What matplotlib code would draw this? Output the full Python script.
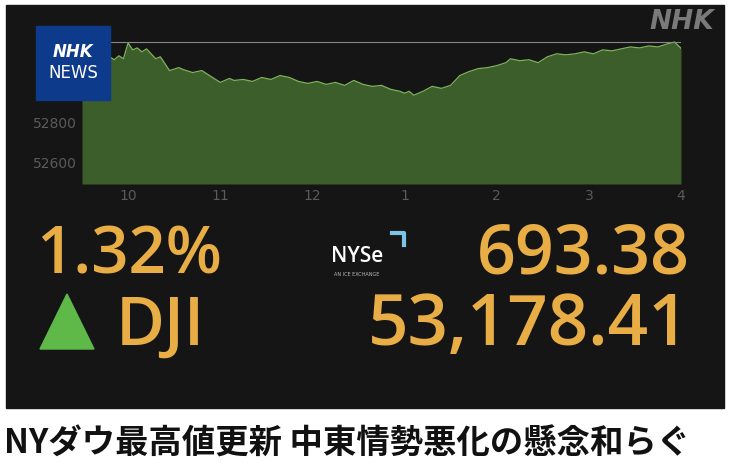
import matplotlib
matplotlib.use("Agg")
import matplotlib.pyplot as plt
from matplotlib.patches import Rectangle, Polygon

# intraday DJI (hour of day, value)
times = [9.5, 9.6, 9.7, 9.8, 9.85, 9.9, 9.95, 10.0, 10.05, 10.1, 10.15, 10.2, 10.3, 10.35,
         10.45, 10.55, 10.6, 10.7, 10.8, 10.9, 11.0, 11.1, 11.15, 11.25, 11.35, 11.45, 11.55,
         11.65, 11.75, 11.85, 11.95, 12.05, 12.15, 12.25, 12.35, 12.45, 12.55, 12.65, 12.75,
         12.85, 12.95, 13.0, 13.05, 13.1, 13.2, 13.3, 13.4, 13.5, 13.6, 13.7, 13.8, 13.9, 14.0,
         14.1, 14.15, 14.25, 14.35, 14.45, 14.55, 14.65, 14.75, 14.85, 14.95, 15.05, 15.15,
         15.25, 15.35, 15.45, 15.55, 15.65, 15.75, 15.85, 15.93, 16.0]
values = [53035, 53060, 53095, 53135, 53120, 53140, 53125, 53205, 53170, 53180, 53160, 53175,
          53125, 53135, 53065, 53080, 53070, 53055, 53065, 53035, 53005, 53025, 53015, 53020,
          53010, 53030, 53020, 53040, 53030, 53010, 53000, 53010, 52995, 53005, 52990, 53015,
          52995, 52985, 52990, 52970, 52960, 52950, 52960, 52940, 52960, 52985, 52975, 52990,
          53040, 53060, 53075, 53080, 53090, 53105, 53125, 53115, 53120, 53105, 53135, 53150,
          53145, 53150, 53160, 53150, 53170, 53165, 53175, 53185, 53180, 53190, 53185, 53200,
          53210, 53178]
xticks = [10, 11, 12, 13, 14, 15, 16]
xticklabels = ["10", "11", "12", "1", "2", "3", "4"]
yticks = [52600, 52800]
pct_text = "1.32%"
chg_text = "693.38"
idx_name = "DJI"
close_text = "53,178.41"
title = "NYダウ最高値更新 中東情勢悪化の懸念和らぐ"

W, H = 730, 476
fig = plt.figure(figsize=(W/100, H/100), dpi=100, facecolor="white")
bg = fig.add_axes([0, 0, 1, 1]); bg.set_xlim(0, W); bg.set_ylim(H, 0); bg.axis("off")
bg.add_patch(Rectangle((6, 5), 718, 403, color="#151515"))

ax = fig.add_axes([82/W, 1-184/H, 599/W, 143/H])
ax.set_facecolor("#151515")
ax.fill_between(times, values, 52490, color="#3c5e2a", lw=0)
ax.plot(times, values, color="#7fb35a", lw=0.9)
ax.axhline(53208, color="#888888", lw=0.8)
ax.set_xlim(9.5, 16); ax.set_ylim(52490, 53215)
ax.set_xticks(xticks); ax.set_xticklabels(xticklabels)
ax.set_yticks(yticks)
ax.tick_params(colors="#5a5a5a", length=0, labelsize=10)
for s in ax.spines.values(): s.set_visible(False)

# overlay layer
fg = fig.add_axes([0, 0, 1, 1]); fg.set_xlim(0, W); fg.set_ylim(H, 0); fg.axis("off")
fg.patch.set_alpha(0)
fg.add_patch(Rectangle((36, 26), 74, 74, color="#0d3a8a", zorder=5))
fg.text(73, 52, "NHK", color="white", fontsize=12, fontweight="bold", style="italic", ha="center", va="center", zorder=6)
fg.text(73, 73, "NEWS", color="white", fontsize=12, ha="center", va="center", zorder=6)
fg.text(714, 22, "NHK", color="#7a7a7a", fontsize=19, fontweight="bold", style="italic", ha="right", va="center")

gold = "#e8ad45"
fn = "Open Sans"
fg.text(36, 273, pct_text, color=gold, fontsize=47, family=fn, fontweight="semibold", ha="left", va="baseline")
fg.text(690, 273, chg_text, color=gold, fontsize=49, family=fn, fontweight="semibold", ha="right", va="baseline")
fg.text(116, 345, idx_name, color=gold, fontsize=48, family=fn, fontweight="semibold", ha="left", va="baseline")
fg.text(690, 345, close_text, color=gold, fontsize=51, family=fn, fontweight="semibold", ha="right", va="baseline")
fg.add_patch(Polygon([[40, 349], [94, 349], [67, 294]], color="#5fb948"))
fg.text(357, 262, "NYSe", color="white", fontsize=15, family=fn, fontweight="semibold", ha="center", va="baseline")
fg.text(357, 274, "AN ICE EXCHANGE", color="#bbbbbb", fontsize=3.5, ha="center", va="center")
fg.plot([392, 404, 404], [233, 233, 245], color="#7ec3e6", lw=3)

fg.text(4, 444, title, color="#111111", fontsize=24, fontweight="bold",
        family=["Noto Sans CJK JP", "DejaVu Sans"], ha="left", va="center")

fig.savefig("out.png", dpi=100, facecolor="white")
